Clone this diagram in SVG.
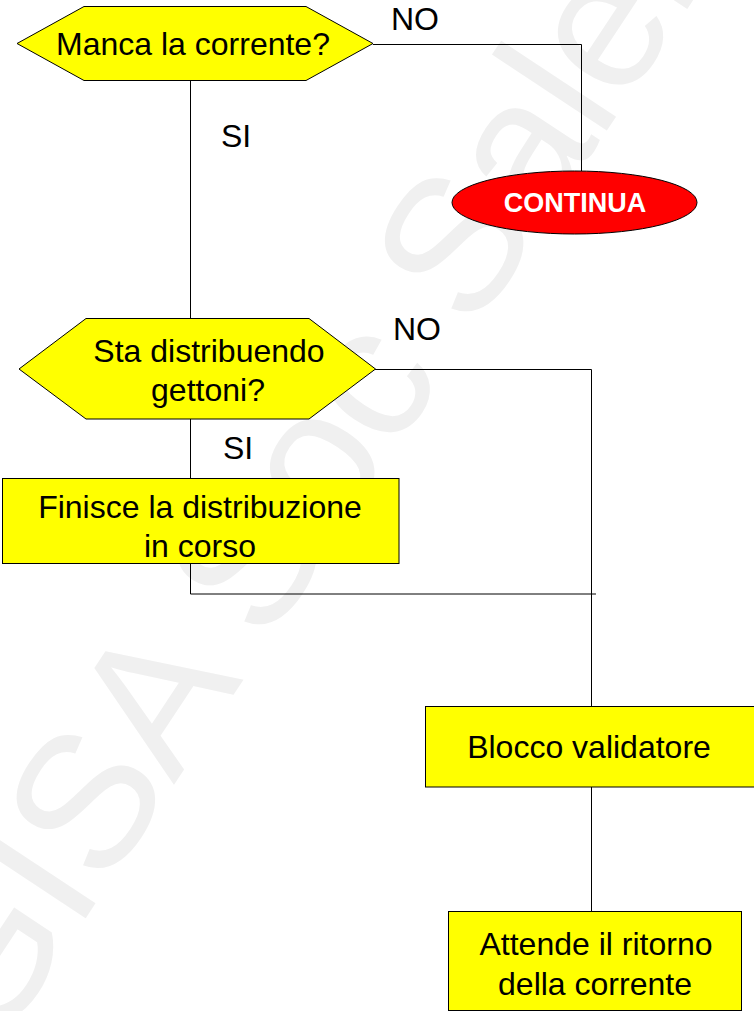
<svg xmlns="http://www.w3.org/2000/svg" width="754" height="1011" viewBox="0 0 754 1011">
<style>
text{font-family:"Liberation Sans",Arial,sans-serif;font-size:32px;fill:#000;text-anchor:middle}
.wm{font-size:190px;fill:#f0f0f0;text-anchor:start;letter-spacing:-1.2px}
.lbl{font-size:27px;font-weight:bold;fill:#fff}
.box{fill:#ff0;stroke:#000;stroke-width:1}
.line{fill:none;stroke:#000;stroke-width:1}
</style>
<rect width="754" height="1011" fill="#fff"/>
<text class="wm" transform="translate(-5 1055) rotate(-56.5)" xml:space="preserve">GISA Soc Saler</text>
<g id="connectors">
<path class="line" d="M373 44.500H581.500V171"/>
<path class="line" d="M190.500 80V318"/>
<path class="line" d="M375 369.500H591.500V706"/>
<path class="line" d="M190.500 419V478"/>
<path class="line" d="M190.500 563V594H596"/>
<path class="line" d="M591.500 787V911"/>
</g>
<g id="decision1"><polygon class="box" points="17,43.500 84,6.500 306,6.500 373,43.500 306,80.500 84,80.500"/><text x="193" y="54.500">Manca la corrente?</text></g>
<text id="no1" x="415" y="30">NO</text>
<text id="si1" x="236" y="147">SI</text>
<g id="continua"><ellipse cx="574.500" cy="202.500" rx="122.500" ry="31.500" fill="#f00" stroke="#000" stroke-width="1"/><text class="lbl" x="575" y="212">CONTINUA</text></g>
<g id="decision2"><polygon class="box" points="19,369 86,318.500 309,318.500 375.500,369 309,419 86,419"/><text x="209" y="361.500">Sta distribuendo</text><text x="208" y="400.500">gettoni?</text></g>
<text id="no2" x="417" y="340">NO</text>
<text id="si2" x="238" y="459">SI</text>
<g id="finisce"><rect class="box" x="2.500" y="478.500" width="396.500" height="85"/><text x="200" y="517.500">Finisce la distribuzione</text><text x="200" y="556.500">in corso</text></g>
<g id="blocco"><rect class="box" x="425.500" y="706.500" width="340" height="80.500"/><text x="589" y="757.500">Blocco validatore</text></g>
<g id="attende"><rect class="box" x="448.500" y="911.500" width="293" height="99"/><text x="596" y="954.500">Attende il ritorno</text><text x="595" y="994.500">della corrente</text></g>
</svg>
